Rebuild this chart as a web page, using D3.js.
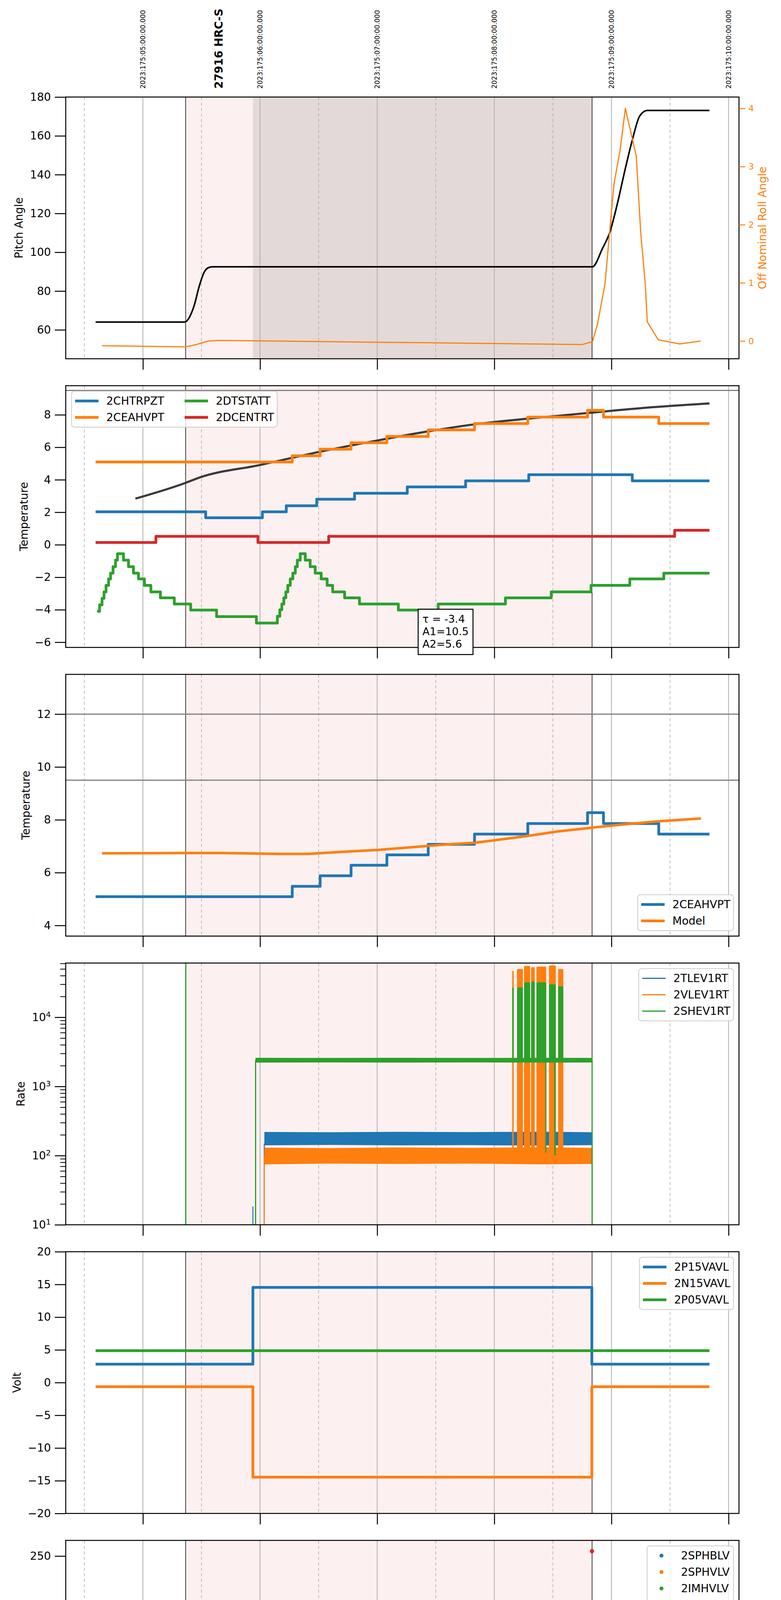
<!DOCTYPE html>
<html>
<head>
<meta charset="utf-8">
<title>27916 HRC-S</title>
<script src="https://cdn.jsdelivr.net/npm/d3@7"></script>
<style>
  html, body { margin: 0; padding: 0; background: #fff; }
  svg { display: block; }
</style>
</head>
<body>
<svg id="chart" width="2000" height="6200"></svg>
<script>
// times are hours since 2023-06-24 00:00 (day 175)
var hourTicks = [1, 2, 3, 4, 5, 6];
var hourLabels = ["01h", "02h", "03h", "04h", "05h", "06h"];
var halfTicks = [0.5, 1.5, 2.5, 3.5, 4.5, 5.5];
var utcLabels = ["2023:175:05:00:00.000", "2023:175:06:00:00.000", "2023:175:07:00:00.000",
                 "2023:175:08:00:00.000", "2023:175:09:00:00.000", "2023:175:10:00:00.000"];
var obsName = "27916 HRC-S", obsTime = 1.65;
var obsSpan = [1.365, 4.835];
var hvSpan = [1.939, 4.835];
var dateLabel = "2023-06-24 (175)";

// panel 1 : pitch / roll
var pitchAngle = [[0.596,64.0],[1.353,64.0],[1.438,72.6],[1.480,82.3],[1.523,89.7],[1.565,92.2],[1.599,92.5],
  [4.838,92.5],[4.923,101.9],[4.987,110.4],[5.051,125.1],[5.115,142.2],[5.179,158.0],[5.242,170.3],[5.306,173.1],[5.837,173.1]];
var rollAngle = [[0.651,-0.08],[1.361,-0.10],[1.459,-0.06],[1.557,0.00],[1.650,0.01],[4.753,-0.06],[4.838,-0.01],
  [4.881,0.29],[4.945,0.98],[5.021,2.69],[5.072,3.26],[5.119,4.00],[5.212,3.18],[5.250,1.87],[5.289,0.98],
  [5.306,0.33],[5.400,0.02],[5.582,-0.05],[5.761,0.00]];

// panel 2 : temperatures
var chtrpzt = [[0.596,2.03],[1.536,1.66],[2.020,2.03],[2.224,2.40],[2.484,2.80],[2.807,3.17],[3.257,3.56],
  [3.755,3.93],[4.294,4.31],[5.178,3.93],[5.837,3.93]];
var ceahvpt = [[0.596,5.09],[2.275,5.48],[2.513,5.88],[2.777,6.28],[3.083,6.67],[3.436,7.07],[3.831,7.46],
  [4.286,7.86],[4.796,8.27],[4.932,7.86],[5.404,7.46],[5.837,7.46]];
var dtstatt = [[0.609,-4.10],[0.630,-3.70],[0.651,-3.30],[0.668,-2.90],[0.685,-2.50],[0.707,-2.10],[0.724,-1.75],
  [0.745,-1.35],[0.766,-0.95],[0.783,-0.55],[0.834,-0.95],[0.877,-1.35],[0.919,-1.75],[0.962,-2.10],[1.013,-2.50],
  [1.068,-2.90],[1.149,-3.27],[1.268,-3.65],[1.408,-4.02],[1.629,-4.42],[1.969,-4.82],[2.148,-4.40],[2.169,-4.00],
  [2.186,-3.65],[2.203,-3.27],[2.220,-2.90],[2.237,-2.50],[2.258,-2.10],[2.280,-1.75],[2.301,-1.35],[2.318,-0.95],
  [2.343,-0.55],[2.386,-0.95],[2.428,-1.35],[2.471,-1.75],[2.522,-2.10],[2.573,-2.50],[2.620,-2.90],[2.722,-3.27],
  [2.849,-3.65],[3.181,-4.02],[3.521,-3.65],[4.095,-3.27],[4.486,-2.90],[4.826,-2.50],[5.157,-2.10],[5.447,-1.75],[5.837,-1.75]];
var dcentrt = [[0.596,0.14],[1.111,0.52],[1.982,0.14],[2.586,0.52],[5.540,0.89],[5.837,0.89]];
var fitCurve = [[0.936,2.84],[1.361,3.80],[1.480,4.13],[2.000,4.91],[2.501,5.71],[3.011,6.43],[3.436,6.98],
  [3.861,7.44],[4.286,7.76],[4.830,8.13],[5.306,8.44],[5.837,8.70]];
var fitNote = ["\u03c4 = -3.4", "A1=10.5", "A2=5.6"];
var tempLimit = [9.5];

// panel 3 : model
var modelTemp = [[0.651,6.73],[1.361,6.74],[1.693,6.74],[2.000,6.72],[2.160,6.71],[2.415,6.71],[2.670,6.78],
  [3.011,6.86],[3.436,7.01],[3.606,7.07],[3.830,7.13],[4.030,7.24],[4.286,7.39],[4.541,7.56],[4.830,7.70],
  [5.094,7.82],[5.392,7.94],[5.765,8.05]];
var modelLimits = [12, 9.5];

// panel 4 : rates (noise bands given as low / high envelopes)
var rateT = [2.041, 2.6, 3.2, 3.8, 4.4, 4.835];
var tlevLo = [143, 145, 143, 144, 142, 144];
var tlevHi = [216, 214, 217, 215, 218, 214];
var vlevLo = [76, 78, 77, 78, 76, 77];
var vlevHi = [128, 126, 129, 127, 130, 127];
var shevT = [1.965, 2.6, 3.2, 3.8, 4.4, 4.835];
var shevLo = [2250, 2260, 2250, 2260, 2250, 2255];
var shevHi = [2550, 2540, 2550, 2540, 2550, 2545];
var tlevEdges = [[1.939,18.4],[2.036,150],[4.835,150]];
var vlevEdges = [[2.036,100],[4.835,100]];
var shevEdges = [[1.366,1e6],[1.962,2400],[4.835,2400]];
var vlevBursts = [[4.153,4.166,76,47000],[4.194,4.244,76,50000],[4.254,4.306,76,55000],[4.314,4.345,76,53000],
  [4.360,4.443,76,54000],[4.467,4.525,76,56000],[4.545,4.589,76,50000]];
var shevBursts = [[4.153,4.166,2300,27000],[4.194,4.244,2300,27000],[4.254,4.306,2300,32000],[4.314,4.345,2300,33000],
  [4.360,4.443,2300,32000],[4.467,4.525,2300,30000],[4.545,4.589,2300,28000],[4.435,4.445,110,2300],[4.512,4.525,100,2300]];

// panel 5 : voltages
var p15vavl = [[0.596,2.82],[1.939,14.55],[4.833,2.82],[5.837,2.82]];
var n15vavl = [[0.596,-0.63],[1.939,-14.46],[4.833,-0.63],[5.837,-0.63]];
var p05vavl = [[0.596,4.88],[5.837,4.88]];

// panel 6 : HV monitor (runs = [start, end, level] of dense constant samples)
var sphblvPts = [[1.990,127.0],[1.990,117.7],[1.995,101.6],[2.007,97.2],[2.020,91.5],[2.029,86.8],[2.041,82.0]];
var sphblvRun = [[2.054,4.833,77.3]];
var sphvlvPts = [[1.990,127.0],[1.990,123.8],[1.999,95.9],[2.012,90.9],[2.020,85.2],[2.029,80.1],[2.037,74.8],
  [4.158,127.0],[4.209,127.0],[4.231,127.0],[4.294,127.0],[4.405,127.0]];
var sphvlvRun = [[2.054,4.833,70.6]];
var imhvlvPts = [];
var imhblvPts = [[4.834,254.9]];

// panel 7 : detector temps (bursts = [t0, t1, low, high] of fast toggling)
var spinatm = [[1.948,2.79],[2.139,3.31],[2.160,3.68],[2.182,4.19],[2.203,4.63],[2.216,5.07],[2.233,5.59],[2.254,6.03],
  [2.275,6.54],[2.297,7.06],[2.318,7.50],[2.331,7.94],[2.386,7.50],[2.424,7.00],[2.458,6.47],[2.501,6.03],[2.543,5.51],
  [2.598,5.07],[2.683,4.60],[2.798,4.19],[2.977,3.71],[3.436,3.24],[4.475,3.68],[4.825,3.68]];
var spinatmBursts = [[4.148,4.175,-1,3.25],[4.186,4.247,-1,3.25],[4.266,4.455,-1,3.25],[4.461,4.503,-1,3.25],[4.538,4.589,-1,3.68]];
var sphvatm = [[1.948,14.41],[2.105,14.70],[2.194,14.97],[2.267,15.25],[2.331,15.51],[2.407,15.81],[2.488,16.10],
  [2.577,16.40],[2.683,16.69],[2.790,16.96],[2.913,17.24],[3.053,17.53],[3.215,17.79],[3.393,18.09],[3.597,18.38],
  [3.831,18.68],[4.109,18.95],[4.397,19.28],[4.780,19.58],[4.825,25]];
var sphvatmBursts = [[4.148,4.175,10.41,19.0],[4.186,4.249,10.41,19.0],[4.266,4.350,10.48,19.1],[4.354,4.455,10.48,19.2],
  [4.461,4.503,10.48,19.3],[4.503,4.534,3.68,10.5],[4.538,4.597,10.48,19.3]];
var iminatm = [[1.948,1.06],[3.755,1.48],[4.825,1.48]];
var iminatmBursts = [[4.148,4.175,1.48,3.3],[4.186,4.247,1.48,3.3],[4.266,4.455,1.48,3.3],[4.461,4.503,1.48,3.3],
  [4.503,4.534,-1,3.7],[4.538,4.589,1.48,3.7]];
var imhvatm = [[1.948,-1],[1.948,13.85],[2.552,14.12],[2.853,14.41],[3.138,14.70],[3.444,14.97],[3.767,15.25],
  [4.114,15.48],[4.534,15.82],[4.825,15.82]];
var imhvatmBursts = [[4.148,4.175,15.48,19.0],[4.186,4.350,15.48,19.2],[4.354,4.455,15.48,19.3],[4.461,4.534,15.48,19.3],
  [4.538,4.597,15.48,19.3],[4.509,4.526,10.5,15.5],[4.822,4.860,-1,21]];

// panel 8 : FEA temps
var fhtrmzt = [[0.596,-9.21],[2.194,-8.79],[2.343,-8.39],[2.484,-7.98],[2.615,-7.58],[2.756,-7.18],[2.904,-6.79],
  [3.045,-6.38],[3.202,-5.99],[3.359,-5.60],[3.521,-5.19],[3.691,-4.82],[3.861,-4.42],[4.025,-4.04],[4.220,-3.64],
  [4.436,-3.28],[4.589,-2.89],[4.786,-2.51],[5.327,-2.89],[5.837,-2.89]];
var fradpyt = [[2.203,-12],[2.203,-11.30],[2.343,-10.89],[2.488,-10.47],[2.628,-10.05],[2.777,-9.62],[2.926,-9.20],
  [3.087,-8.79],[3.253,-8.38],[3.423,-7.97],[3.606,-7.57],[3.789,-7.17],[3.976,-6.78],[4.171,-6.38],[4.380,-5.99],
  [4.584,-5.60],[4.805,-5.19],[5.837,-5.19]];
var fepratm = [[1.961,-7.84],[1.990,-7.45],[2.033,-7.01],[2.088,-6.60],[2.148,-6.21],[2.224,-5.79],[2.318,-5.40],
  [2.428,-4.99],[2.552,-4.60],[2.679,-4.19],[2.811,-3.80],[2.947,-3.41],[3.104,-3.00],[3.257,-2.61],[3.427,-2.19],
  [3.593,-1.80],[3.776,-1.38],[3.959,-0.97],[4.148,-0.97],[4.150,null],[4.566,-0.22],[4.597,0.29],[4.800,0.42],[4.819,0.42]];
var fepratmBursts = [[4.148,4.176,-4.64,-0.75],[4.198,4.245,-4.64,-0.9],[4.281,4.314,-4.64,-0.9],[4.324,4.349,-4.64,-0.9],
  [4.353,4.453,-4.64,-0.6],[4.461,4.503,-4.64,-0.6],[4.539,4.566,-4.64,-0.22]];
var fe00atm = [[1.939,-12],[1.939,-7.10],[2.148,-6.72],[2.237,-6.35],[2.331,-5.96],[2.437,-5.60],[2.535,-5.21],
  [2.628,-4.87],[2.743,-4.48],[2.849,-4.14],[2.968,-3.80],[3.083,-3.46],[3.215,-3.12],[3.249,-3.88],[3.253,-3.12],
  [3.342,-2.78],[3.419,-3.16],[3.423,-2.78],[3.461,-2.43],[3.585,-2.09],[3.733,-1.77],[3.759,-2.82],[3.763,-1.77],
  [3.882,-1.41],[3.925,-1.80],[3.929,-1.41],[4.017,-0.44],[4.021,-1.41],[4.048,-0.76],[4.052,-1.41],[4.053,-1.09],
  [4.148,-1.09],[4.150,null],[4.535,-0.13],[4.619,0.17],[4.797,2],[4.800,null]];
var fe00atmBursts = [[4.148,4.176,-0.85,1],[4.183,4.266,-0.88,1],[4.266,4.535,-0.6,1],[4.503,4.534,-12,-0.6],[4.822,4.860,-12,1]];

// ---------------------------------------------------------------------------
var C = {blue: "#1f77b4", orange: "#ff7f0e", green: "#2ca02c", red: "#d62728"};
var FONT = "'DejaVu Sans', sans-serif";
var LW = 7;
var L = 168.3, W = 1724.1, PH = 670, TOP0 = 248.4, STEP = 739;

var svg = d3.select("#chart");
svg.append("rect").attr("width", 2000).attr("height", 6200).attr("fill", "#fff");
var x = d3.scaleLinear().domain([0.341, 6.089]).range([0, W]);

function band(t, lo, hi) { return t.map(function(d, i) { return {t: d, lo: lo[i], hi: hi[i]}; }); }

var panels = [
  {ylab: "Pitch Angle", dom: [45.1, 180], ticks: [60, 80, 100, 120, 140, 160, 180], dark: true,
   layers: [{kind: "line", data: pitchAngle, color: "#000", w: 4, curve: d3.curveMonotoneX}],
   right: {label: "Off Nominal Roll Angle", dom: [-0.305, 4.196], ticks: [0, 1, 2, 3, 4], data: rollAngle, color: C.orange, w: 3}},
  {ylab: "Temperature", dom: [-6.32, 9.79], ticks: [-6, -4, -2, 0, 2, 4, 6, 8], hlines: tempLimit,
   layers: [
     {kind: "line", data: fitCurve, color: "#3a3a3a", w: 5.5, curve: d3.curveMonotoneX},
     {kind: "step", data: chtrpzt, color: C.blue, w: LW},
     {kind: "step", data: ceahvpt, color: C.orange, w: LW},
     {kind: "step", data: dtstatt, color: C.green, w: LW},
     {kind: "step", data: dcentrt, color: C.red, w: LW}],
   legend: {loc: "ul", ncol: 2, items: [{name: "2CHTRPZT", color: C.blue}, {name: "2CEAHVPT", color: C.orange},
     {name: "2DTSTATT", color: C.green}, {name: "2DCENTRT", color: C.red}]},
   note: {t: 3.35, v: -3.97, lines: fitNote}},
  {ylab: "Temperature", dom: [3.597, 13.505], ticks: [4, 6, 8, 10, 12], hlines: modelLimits,
   layers: [
     {kind: "step", data: ceahvpt, color: C.blue, w: LW},
     {kind: "line", data: modelTemp, color: C.orange, w: 6.5}],
   legend: {loc: "lr", items: [{name: "2CEAHVPT", color: C.blue}, {name: "Model", color: C.orange}]}},
  {ylab: "Rate", dom: [10, 60800], log: true, ticks: [10, 100, 1000, 10000],
   layers: [
     {kind: "edges", data: tlevEdges, floor: 5, color: C.blue, w: 2.5},
     {kind: "band", data: band(rateT, tlevLo, tlevHi), color: C.blue},
     {kind: "edges", data: vlevEdges, floor: 5, color: C.orange, w: 2.5},
     {kind: "band", data: band(rateT, vlevLo, vlevHi), color: C.orange},
     {kind: "bursts", data: vlevBursts, color: C.orange},
     {kind: "edges", data: shevEdges, floor: 5, color: C.green, w: 3},
     {kind: "band", data: band(shevT, shevLo, shevHi), color: C.green},
     {kind: "bursts", data: shevBursts, color: C.green}],
   legend: {loc: "ur", items: [{name: "2TLEV1RT", color: C.blue, w: 3}, {name: "2VLEV1RT", color: C.orange, w: 3},
     {name: "2SHEV1RT", color: C.green, w: 3}]}},
  {ylab: "Volt", dom: [-20, 20], ticks: [-20, -15, -10, -5, 0, 5, 10, 15, 20],
   layers: [
     {kind: "step", data: p15vavl, color: C.blue, w: LW},
     {kind: "step", data: n15vavl, color: C.orange, w: LW},
     {kind: "step", data: p05vavl, color: C.green, w: LW}],
   legend: {loc: "ur", items: [{name: "2P15VAVL", color: C.blue}, {name: "2N15VAVL", color: C.orange},
     {name: "2P05VAVL", color: C.green}]}},
  {ylab: "HV Monitor", dom: [0, 265.9], ticks: [0, 50, 100, 150, 200, 250],
   layers: [
     {kind: "run", data: sphblvRun, color: C.blue, w: 12},
     {kind: "dots", data: sphblvPts, color: C.blue},
     {kind: "run", data: sphvlvRun, color: C.orange, w: 11},
     {kind: "dots", data: sphvlvPts, color: C.orange},
     {kind: "dots", data: imhvlvPts, color: C.green},
     {kind: "dots", data: imhblvPts, color: C.red}],
   legend: {loc: "ur", items: [{name: "2SPHBLV", color: C.blue, dot: true}, {name: "2SPHVLV", color: C.orange, dot: true},
     {name: "2IMHVLV", color: C.green, dot: true}, {name: "2IMHBLV", color: C.red, dot: true}]}},
  {ylab: "Detector Temp", dom: [-0.44, 20.16], ticks: [0, 2.5, 5, 7.5, 10, 12.5, 15, 17.5, 20], fmt: d3.format(".1f"),
   layers: [
     {kind: "step", data: spinatm, color: C.blue, w: LW},
     {kind: "bursts", data: spinatmBursts, color: C.blue},
     {kind: "step", data: sphvatm, color: C.orange, w: LW},
     {kind: "bursts", data: sphvatmBursts, color: C.orange},
     {kind: "step", data: iminatm, color: C.green, w: LW},
     {kind: "bursts", data: iminatmBursts, color: C.green},
     {kind: "step", data: imhvatm, color: C.red, w: LW},
     {kind: "bursts", data: imhvatmBursts, color: C.red}],
   legend: {loc: "ur", items: [{name: "2SPINATM", color: C.blue}, {name: "2SPHVATM", color: C.orange},
     {name: "2IMINATM", color: C.green}, {name: "2IMHVATM", color: C.red}]}},
  {ylab: "FEA Temp", dom: [-11.55, 0.487], ticks: [-10, -8, -6, -4, -2, 0], bottom: true,
   layers: [
     {kind: "step", data: fhtrmzt, color: C.blue, w: LW},
     {kind: "step", data: fradpyt, color: C.orange, w: LW},
     {kind: "step", data: fepratm, color: C.green, w: LW},
     {kind: "bursts", data: fepratmBursts, color: C.green},
     {kind: "step", data: fe00atm, color: C.red, w: LW},
     {kind: "bursts", data: fe00atmBursts, color: C.red}],
   legend: {loc: "ul", items: [{name: "2FHTRMZT", color: C.blue}, {name: "2FRADPYT", color: C.orange},
     {name: "2FEPRATM", color: C.green}, {name: "2FE00ATM", color: C.red}]}}
];

function drawLayer(s, l, y) {
  if (l.kind === "step" || l.kind === "line") {
    var gen = d3.line().defined(function(d) { return d[1] !== null; })
      .x(function(d) { return x(d[0]); }).y(function(d) { return y(d[1]); })
      .curve(l.kind === "step" ? d3.curveStepAfter : (l.curve || d3.curveLinear));
    s.append("path").attr("d", gen(l.data)).attr("fill", "none").attr("stroke", l.color)
      .attr("stroke-width", l.w).attr("stroke-linejoin", "round");
  } else if (l.kind === "bursts") {
    // burst extents were read at the outer edges of the drawn columns
    s.append("g").selectAll("rect").data(l.data).enter().append("rect")
      .attr("x", function(d) { return x(d[0]); })
      .attr("width", function(d) { return Math.max(2.5, x(d[1]) - x(d[0])); })
      .attr("y", function(d) { return y(d[3]); })
      .attr("height", function(d) { return y(d[2]) - y(d[3]); })
      .attr("rx", 2.5).attr("fill", l.color);
  } else if (l.kind === "edges") {
    s.append("g").selectAll("line").data(l.data).enter().append("line")
      .attr("x1", function(d) { return x(d[0]); }).attr("x2", function(d) { return x(d[0]); })
      .attr("y1", y(l.floor)).attr("y2", function(d) { return y(d[1]); })
      .attr("stroke", l.color).attr("stroke-width", l.w);
  } else if (l.kind === "band") {
    var area = d3.area().x(function(d) { return x(d.t); })
      .y0(function(d) { return y(d.lo); }).y1(function(d) { return y(d.hi); });
    s.append("path").attr("d", area(l.data)).attr("fill", l.color)
      .attr("stroke", l.color).attr("stroke-width", 2.5).attr("stroke-linejoin", "round");
  } else if (l.kind === "dots") {
    s.append("g").selectAll("circle").data(l.data).enter().append("circle")
      .attr("cx", function(d) { return x(d[0]); }).attr("cy", function(d) { return y(d[1]); })
      .attr("r", 5.5).attr("fill", l.color);
  } else if (l.kind === "run") {
    s.append("g").selectAll("line").data(l.data).enter().append("line")
      .attr("x1", function(d) { return x(d[0]); }).attr("x2", function(d) { return x(d[1]); })
      .attr("y1", function(d) { return y(d[2]); }).attr("y2", function(d) { return y(d[2]); })
      .attr("stroke", l.color).attr("stroke-width", l.w).attr("stroke-linecap", "round");
  }
}

function drawLegend(g, lg) {
  var n = lg.items.length, ncol = lg.ncol || 1, nrow = Math.ceil(n / ncol);
  var box = g.append("g").attr("font-family", FONT).attr("font-size", 28);
  var bg = box.append("rect");
  var colX = 9, bw = 0;
  for (var c = 0; c < ncol; c++) {
    var its = lg.items.slice(c * nrow, (c + 1) * nrow), maxW = 0;
    its.forEach(function(it, r) {
      var yy = 25 + r * 42;
      if (it.dot) {
        box.append("circle").attr("cx", colX + 28).attr("cy", yy).attr("r", 5).attr("fill", it.color);
      } else {
        box.append("line").attr("x1", colX).attr("x2", colX + 60).attr("y1", yy).attr("y2", yy)
          .attr("stroke", it.color).attr("stroke-width", it.w || LW);
      }
      var t = box.append("text").attr("x", colX + (it.dot ? 78 : 80)).attr("y", yy)
        .attr("dominant-baseline", "central").text(it.name);
      maxW = Math.max(maxW, t.node().getComputedTextLength());
    });
    bw = colX + 80 + maxW + 8;
    colX = bw + 44;
  }
  var bh = 50 + (nrow - 1) * 42;
  bg.attr("width", bw).attr("height", bh).attr("rx", 7).attr("fill", "#fff").attr("fill-opacity", 0.8)
    .attr("stroke", "#cccccc").attr("stroke-width", 2);
  var bx = lg.loc === "ul" ? 15 : W - 14 - bw;
  var by = lg.loc === "lr" ? PH - 14 - bh : 14;
  box.attr("transform", "translate(" + bx + "," + by + ")");
}

panels.forEach(function(p, i) {
  var top = TOP0 + i * STEP;
  var g = svg.append("g").attr("transform", "translate(" + L + "," + top + ")");
  var y = (p.log ? d3.scaleLog() : d3.scaleLinear()).domain(p.dom).range([PH, 0]);

  // observation shading and grid
  g.append("rect").attr("x", x(obsSpan[0])).attr("width", x(obsSpan[1]) - x(obsSpan[0]))
    .attr("height", PH).attr("fill", "#fdf0f0");
  if (p.dark) g.append("rect").attr("x", x(hvSpan[0])).attr("width", x(hvSpan[1]) - x(hvSpan[0]))
    .attr("height", PH).attr("fill", "#e3d9d9");
  g.append("g").selectAll("line").data(halfTicks).enter().append("line")
    .attr("x1", x).attr("x2", x).attr("y1", 0).attr("y2", PH)
    .attr("stroke", "#b0b0b0").attr("stroke-width", 1.6).attr("stroke-dasharray", "8,6");
  g.append("g").selectAll("line").data(hourTicks).enter().append("line")
    .attr("x1", x).attr("x2", x).attr("y1", 0).attr("y2", PH)
    .attr("stroke", "#b0b0b0").attr("stroke-width", 2);
  g.append("g").selectAll("line").data(obsSpan).enter().append("line")
    .attr("x1", x).attr("x2", x).attr("y1", 0).attr("y2", PH)
    .attr("stroke", "#000").attr("stroke-width", 1.5);
  g.append("g").selectAll("line").data(p.hlines || []).enter().append("line")
    .attr("x1", 0).attr("x2", W).attr("y1", y).attr("y2", y)
    .attr("stroke", "#808080").attr("stroke-width", 3);

  // data
  g.append("clipPath").attr("id", "clip" + i).append("rect").attr("width", W).attr("height", PH);
  var s = g.append("g").attr("clip-path", "url(#clip" + i + ")");
  p.layers.forEach(function(l) { drawLayer(s, l, y); });

  var yr;
  if (p.right) {
    yr = d3.scaleLinear().domain(p.right.dom).range([PH, 0]);
    drawLayer(s, {kind: "line", data: p.right.data, color: p.right.color, w: p.right.w}, yr);
  }

  g.append("rect").attr("width", W).attr("height", PH).attr("fill", "none")
    .attr("stroke", "#000").attr("stroke-width", 2.5);

  // y axis
  var ga = g.append("g").call(d3.axisLeft(y).tickValues(p.ticks).tickSize(28).tickPadding(10)
    .tickFormat(p.log ? function() { return ""; } : (p.fmt || d3.format("d"))));
  ga.attr("font-size", 28).attr("font-family", FONT);
  ga.select(".domain").remove();
  ga.selectAll(".tick line").attr("stroke-width", 2.5);
  if (p.log) {
    ga.selectAll(".tick text").each(function(d) {
      var t = d3.select(this);
      t.append("tspan").text("10");
      t.append("tspan").attr("dy", "-0.5em").attr("font-size", 20).text(Math.round(Math.log10(d)));
    });
    var minors = [];
    [10, 100, 1000, 10000].forEach(function(dec) {
      for (var k = 2; k <= 9; k++) if (dec * k < p.dom[1]) minors.push(dec * k);
    });
    var gm = g.append("g").call(d3.axisLeft(y).tickValues(minors).tickSize(14).tickFormat(""));
    gm.select(".domain").remove();
    gm.selectAll(".tick line").attr("stroke-width", 2);
  }
  var bb = ga.node().getBBox();
  g.append("text").attr("transform", "translate(" + (bb.x - 28) + "," + PH / 2 + ") rotate(-90)")
    .attr("text-anchor", "middle").attr("dominant-baseline", "central")
    .attr("font-family", FONT).attr("font-size", 28).text(p.ylab);

  if (p.right) {
    var gr = g.append("g").attr("transform", "translate(" + W + ",0)")
      .call(d3.axisRight(yr).tickValues(p.right.ticks).tickSize(16).tickPadding(8).tickFormat(d3.format("d")));
    gr.attr("font-size", 22).attr("font-family", FONT);
    gr.select(".domain").remove();
    gr.selectAll(".tick line").attr("stroke", p.right.color).attr("stroke-width", 2.5);
    gr.selectAll(".tick text").attr("fill", p.right.color);
    g.append("text").attr("transform", "translate(" + (W + 60) + "," + PH / 2 + ") rotate(-90)")
      .attr("text-anchor", "middle").attr("dominant-baseline", "central")
      .attr("font-family", FONT).attr("font-size", 28).attr("fill", p.right.color).text(p.right.label);
  }

  // x axis
  var gx = g.append("g").attr("transform", "translate(0," + PH + ")")
    .call(d3.axisBottom(x).tickValues(hourTicks).tickSize(28).tickPadding(12)
      .tickFormat(function(d, j) { return p.bottom ? hourLabels[j] : ""; }));
  gx.attr("font-size", 28).attr("font-family", FONT);
  gx.select(".domain").remove();
  gx.selectAll(".tick line").attr("stroke-width", 2.5);
  if (p.bottom) {
    var gh = g.append("g").attr("transform", "translate(0," + PH + ")")
      .call(d3.axisBottom(x).tickValues(halfTicks).tickSize(0).tickPadding(8).tickFormat(function() { return "30"; }));
    gh.attr("font-size", 18).attr("font-family", FONT);
    gh.select(".domain").remove();
    g.append("text").attr("x", W / 2).attr("y", PH + 88).attr("text-anchor", "middle")
      .attr("dominant-baseline", "central").attr("font-family", FONT).attr("font-size", 35).text(dateLabel);
  }

  if (p.legend) drawLegend(g, p.legend);

  if (p.note) {
    var ng = g.append("g").attr("transform", "translate(" + x(p.note.t) + "," + y(p.note.v) + ")")
      .attr("font-family", FONT).attr("font-size", 27);
    var nr = ng.append("rect");
    var nw = 0;
    p.note.lines.forEach(function(s2, k) {
      var t = ng.append("text").attr("x", 11).attr("y", 25 + k * 32).attr("dominant-baseline", "central").text(s2);
      nw = Math.max(nw, t.node().getComputedTextLength());
    });
    nr.attr("width", nw + 22).attr("height", 116).attr("fill", "#fff").attr("stroke", "#000").attr("stroke-width", 2.5);
  }
});

// UTC labels and observation name above the first panel
var head = svg.append("g").attr("font-family", FONT);
head.selectAll("text.utc").data(utcLabels).enter().append("text").attr("class", "utc")
  .attr("transform", function(d, j) { return "translate(" + (L + x(hourTicks[j])) + ",227) rotate(-90)"; })
  .attr("dominant-baseline", "central").attr("font-size", 17).text(function(d) { return d; });
head.append("text").attr("transform", "translate(" + (L + x(obsTime)) + ",227) rotate(-90)")
  .attr("dominant-baseline", "central").attr("font-size", 28).attr("font-weight", "bold").text(obsName);
</script>
</body>
</html>
